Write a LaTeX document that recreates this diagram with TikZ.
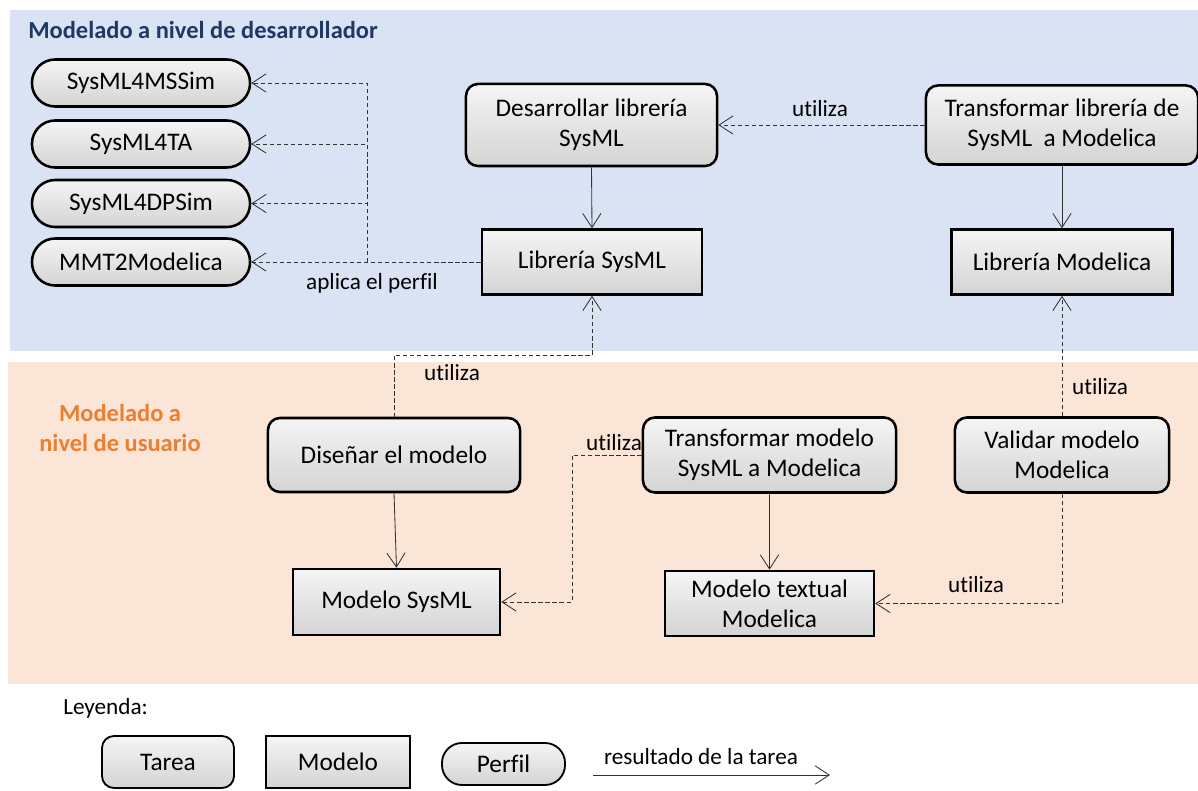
\documentclass[tikz,border=0pt]{standalone}
\usepackage{fontspec}
\setmainfont[Ligatures=NoCommon]{Carlito}
\usepackage{xcolor}
\usepackage{tikz}
\usetikzlibrary{arrows.meta,positioning}

\definecolor{devbg}{HTML}{DAE3F3}
\definecolor{usrbg}{HTML}{FBE5D6}
\definecolor{devtxt}{HTML}{1F3864}
\definecolor{usrtxt}{HTML}{ED7D31}

\begin{document}
\begin{tikzpicture}[x=0.025cm,y=0.025cm,
    every node/.style={font=\fontsize{18}{21.5}\selectfont,align=center,inner sep=0pt},
    tarea/.style={draw,line width=1.8pt,rounded corners=0.3cm,top color=gray!8,bottom color=gray!34},
    modelo/.style={draw,line width=1.8pt,top color=gray!8,bottom color=gray!34},
    perfil/.style={draw,line width=1.8pt,rounded corners=0.58cm,top color=gray!8,bottom color=gray!34,
                   minimum width=5.45cm,minimum height=1.175cm},
    res/.style={-{Straight Barb[length=10pt,width=13pt]},line width=0.6pt,draw=black!80},
    usa/.style={res,dash pattern=on 3pt off 2pt},
    lbl/.style={font=\fontsize{16.5}{19}\selectfont},
    titulo/.style={font=\fontsize{17.4}{21}\selectfont\bfseries}]

    \useasboundingbox (0,0) rectangle (1198,790);

    % --- zonas
    \fill[devbg] (10,439) rectangle (1198,780);
    \fill[usrbg] (8,106) rectangle (1198,428);
    \node[titulo,text=devtxt,anchor=west] (tdev) at (28,760) {Modelado a nivel de desarrollador};
    \node[titulo,text=usrtxt] (tusr) at (120,362) {Modelado a\\nivel de usuario};

    % --- perfiles
    \foreach \n/\t/\y in {p1/SysML4MSSim/707,p2/SysML4TA/646,p3/SysML4DPSim/586.5,p4/MMT2Modelica/528}{\node[perfil] (\n) at (141,\y) {\t};}

    % --- nivel de desarrollador
    \node[tarea,minimum width=6.275cm,minimum height=2.05cm] (dlib) at (591.5,665) {Desarrollar librería\\SysML};
    \node[tarea,minimum width=6.8cm,minimum height=1.975cm] (tlib) at (1062,665) {Transformar librería de\\SysML\ \ a Modelica};
    \node[modelo,minimum width=5.5cm,minimum height=1.625cm] (lsys) at (592,528) {Librería SysML};
    \node[modelo,minimum width=5.525cm,minimum height=1.625cm] (lmod) at (1062,528) {Librería Modelica};

    % --- nivel de usuario
    \node[tarea,minimum width=6.3cm,minimum height=1.85cm] (dis) at (394,335) {Diseñar el modelo};
    \node[tarea,minimum width=6.325cm,minimum height=1.875cm] (tmod) at (769.5,335) {Transformar modelo\\SysML a Modelica};
    \node[tarea,minimum width=5.35cm,minimum height=1.875cm] (val) at (1062,335) {Validar modelo\\Modelica};
    \node[modelo,minimum width=5.175cm,minimum height=1.65cm] (msys) at (396.5,188) {Modelo SysML};
    \node[modelo,minimum width=5.225cm,minimum height=1.625cm] (mtxt) at (769.5,186.5) {Modelo textual\\Modelica};

    % --- resultados (solid)
    \foreach \u/\v in {dlib/lsys,tlib/lmod,dis/msys,tmod/mtxt}{\draw[res] (\u.south) -- (\v.north);}

    % --- aplica el perfil
    \coordinate (hub) at (367,528);
    \draw[usa] (lsys.west) -- (p4.east);
    \foreach \n in {p1,p2,p3}{\draw[usa] (hub) |- (\n.east);}
    \node[lbl] (aplica) at (372,507) {aplica el perfil};

    % --- utiliza (dashed)
    \draw[usa] (tlib.west |- dlib.east) -- (dlib.east);
    \node[lbl] (u1) at (820,681) {utiliza};
    \coordinate (b1) at (394,435);
    \draw[usa] (dis.north) -- (b1) -| (lsys.south);
    \node[lbl] (u2) at (452,417) {utiliza};
    \coordinate (b2) at (572,188);
    \draw[usa] (tmod.west) -| (b2) -- (msys.east);
    \node[lbl] (u3) at (614,347) {utiliza};
    \draw[usa] (val.north) -- (lmod.south);
    \node[lbl] (u4) at (1100,403) {utiliza};
    \coordinate (b3) at (1062,186.5);
    \draw[usa] (val.south) -- (b3) -- (mtxt.east);
    \node[lbl] (u5) at (976,205) {utiliza};

    % --- leyenda
    \node[lbl,anchor=west] (ley) at (63,82) {Leyenda:};
    \node[tarea,line width=1.3pt,minimum width=3.3cm,minimum height=1.3cm] (lt) at (168,28) {Tarea};
    \node[modelo,line width=1.3pt,minimum width=3.6cm,minimum height=1.3cm] (lm) at (338,28) {Modelo};
    \node[perfil,line width=1.3pt,minimum width=3.075cm,minimum height=1.05cm,rounded corners=0.5cm] (lp) at (503.5,26) {Perfil};
    \coordinate (la) at (593,15);
    \coordinate (lb) at (830,15);
    \draw[res] (la) -- (lb);
    \node[lbl] (lr) at (701,33) {resultado de la tarea};
\end{tikzpicture}
\end{document}
